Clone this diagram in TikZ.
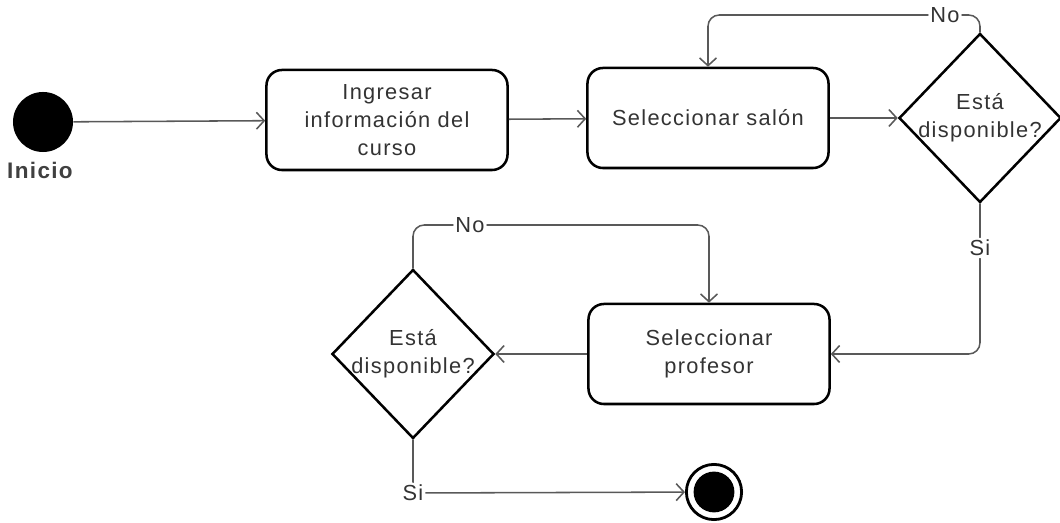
\documentclass[tikz,border=0pt]{standalone}
\usepackage{fontspec}
\setmainfont[LetterSpace=6]{Liberation Sans}
\usetikzlibrary{arrows.meta,shapes.geometric}
\tikzset{
  activity/.style={draw,line width=1.8pt,rounded corners=11pt,minimum width=6.025cm,
    minimum height=2.5cm,align=center,inner sep=0pt,text=black!80},
  decision/.style={draw,diamond,line width=1.8pt,minimum width=4.05cm,
    minimum height=4.225cm,inner sep=0pt},
  flow/.style={draw=black!65,line width=1.1pt,rounded corners=8pt,
    -{Straight Barb[length=5.5pt,width=12pt]}},
  lbl/.style={fill=white,inner sep=1.5pt,text=black!80},
}
\begin{document}
\begin{tikzpicture}[x=0.025cm,y=-0.025cm,font=\fontsize{15.5}{20}\selectfont]
\useasboundingbox (0,0) rectangle (1060,523);
% nodos
\node[circle,fill=black,minimum size=1.5cm,inner sep=0pt] (inicio) at (43,122) {};
\node[font=\fontsize{16}{20}\selectfont\bfseries,text=black!75] (lblinicio) at (40,170) {Inicio};
\node[activity] (curso) at (387,120) {Ingresar\\información del\\curso};
\node[activity] (salon) at (708,118) {Seleccionar salón};
\node[decision] (disp1) at (980,118) {};
\node[align=center,text=black!80] (txtdisp1) at (disp1) {Está\\disponible?};
\node[activity] (profe) at (709,354) {Seleccionar\\profesor};
\node[decision] (disp2) at (413,354) {};
\node[align=center,text=black!80] (txtdisp2) at (disp2) {Está\\disponible?};
\node[circle,draw,line width=2pt,minimum size=1.38cm,inner sep=0pt,
  path picture={\fill (path picture bounding box.center) circle (0.51cm);}] (fin) at (714,492) {};
\coordinate (no1) at (945,15);
\coordinate (si1) at (980,248);
\coordinate (no2) at (470,225);
\coordinate (si2) at (413,493);
% flujos
\draw[flow] (inicio) -- (curso);
\draw[flow] (curso) -- (salon);
\draw[flow] (salon) -- (disp1);
\draw[flow] (disp1.north) |- (no1) node[lbl]{No} -| (salon.north);
\draw[flow] (disp1.south) -- (si1) node[lbl]{Si} |- (profe.east);
\draw[flow] (profe) -- (disp2);
\draw[flow] (disp2.north) |- (no2) node[lbl]{No} -| (profe.north);
\draw[flow] (disp2.south) -- (si2) node[lbl]{Si} -- (fin);
\end{tikzpicture}
\end{document}
